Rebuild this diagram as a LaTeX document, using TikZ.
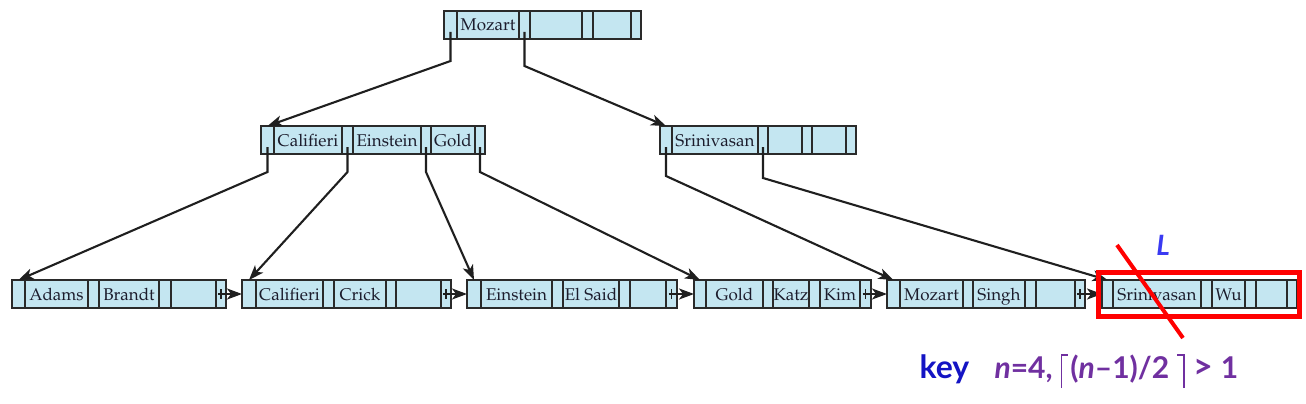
\documentclass[tikz,border=0pt]{standalone}
\usepackage{fontspec}
\newfontfamily\keyfont{Lato}
\usetikzlibrary{arrows.meta}
\definecolor{cellblue}{HTML}{C4E6F1}
\definecolor{cellline}{HTML}{2A2A2A}
\definecolor{keytext}{HTML}{1C1C2C}
\definecolor{keyblue}{HTML}{1414C4}
\definecolor{keypurple}{HTML}{7030A0}
\definecolor{lblue}{HTML}{3A3AF2}
\definecolor{boxred}{HTML}{FF0000}
\newcommand\pal{\fontencoding{OT1}\fontfamily{ppl}\fontsize{17}{17}\selectfont}
\newcommand\pcell[4]{\node[cellbox, minimum width={(#3)-(#2)}] (#1) at ({((#2)+(#3))/2},#4) {};}
\newcommand\kcell[5]{\node[cellbox, minimum width={(#3)-(#2)}, font=\pal, text=keytext, text height=15pt, text depth=3pt] (#1) at ({((#2)+(#3))/2},#4) {#5};}
\newcommand\myceilL{\raisebox{-10pt}{\rule{1.8pt}{34pt}}\raisebox{22.2pt}{\rule{6pt}{1.8pt}}}
\newcommand\myceilR{\raisebox{22.2pt}{\rule{6pt}{1.8pt}}\raisebox{-10pt}{\rule{1.8pt}{34pt}}}
\tikzset{
  cellbox/.style={draw=cellline, fill=cellblue, line width=1.5pt, inner sep=0pt, outer sep=0pt, minimum height=28pt},
  ptr/.style={draw=black!88, line width=2.1pt, -{Stealth[length=15pt,width=11pt,inset=4pt]}},
  tick/.style={draw=black!88, line width=1.5pt},
  redbox/.style={draw=boxred, line width=5pt},
}
\begin{document}
\begin{tikzpicture}[x=1pt,y=-1pt]
\useasboundingbox (0,0) rectangle (1306,404);
% root
\pcell{root-p1}{444}{457}{25}
\kcell{root-k1}{457}{519}{25}{Mozart}
\pcell{root-p2}{519}{530}{25}
\kcell{root-k2}{530}{582}{25}{}
\pcell{root-p3}{582}{593}{25}
\kcell{root-k3}{593}{631}{25}{}
\pcell{root-p4}{631}{641}{25}
% internal 1
\pcell{ia-p1}{261}{274}{140}
\kcell{ia-k1}{274}{342}{140}{Califieri}
\pcell{ia-p2}{342}{353}{140}
\kcell{ia-k2}{353}{421}{140}{Einstein}
\pcell{ia-p3}{421}{431}{140}
\kcell{ia-k3}{431}{475}{140}{Gold}
\pcell{ia-p4}{475}{485}{140}
% internal 2
\pcell{ib-p1}{660}{672}{140}
\kcell{ib-k1}{672}{758}{140}{Srinivasan}
\pcell{ib-p2}{758}{768}{140}
\kcell{ib-k2}{768}{802}{140}{}
\pcell{ib-p3}{802}{812}{140}
\kcell{ib-k3}{812}{846}{140}{}
\pcell{ib-p4}{846}{856}{140}
% leaf 1
\pcell{la-p1}{12}{25}{294}
\kcell{la-k1}{25}{88}{294}{Adams}
\pcell{la-p2}{88}{99}{294}
\kcell{la-k2}{99}{159}{294}{Brandt}
\pcell{la-p3}{159}{171}{294}
\kcell{la-k3}{171}{216}{294}{}
\pcell{la-p4}{216}{226}{294}
% leaf 2
\pcell{lb-p1}{242}{256}{294}
\kcell{lb-k1}{256}{323}{294}{Califieri}
\pcell{lb-p2}{323}{334}{294}
\kcell{lb-k2}{334}{386}{294}{Crick}
\pcell{lb-p3}{386}{396}{294}
\kcell{lb-k3}{396}{441}{294}{}
\pcell{lb-p4}{441}{451}{294}
% leaf 3
\pcell{lc-p1}{467}{481}{294}
\kcell{lc-k1}{481}{552}{294}{Einstein}
\pcell{lc-p2}{552}{563}{294}
\kcell{lc-k2}{563}{619}{294}{El Said}
\pcell{lc-p3}{619}{630}{294}
\kcell{lc-k3}{630}{666}{294}{}
\pcell{lc-p4}{666}{677}{294}
% leaf 4
\pcell{ld-p1}{694}{706}{294}
\kcell{ld-k1}{706}{763}{294}{Gold}
\pcell{ld-p2}{763}{773}{294}
\kcell{ld-k2}{773}{809}{294}{Katz}
\pcell{ld-p3}{809}{820}{294}
\kcell{ld-k3}{820}{860}{294}{Kim}
\pcell{ld-p4}{860}{871}{294}
% leaf 5
\pcell{le-p1}{887}{900}{294}
\kcell{le-k1}{900}{963}{294}{Mozart}
\pcell{le-p2}{963}{973}{294}
\kcell{le-k2}{973}{1025}{294}{Singh}
\pcell{le-p3}{1025}{1036}{294}
\kcell{le-k3}{1036}{1075}{294}{}
\pcell{le-p4}{1075}{1085}{294}
% leaf 6
\pcell{lf-p1}{1102}{1113}{294}
\kcell{lf-k1}{1113}{1201}{294}{Srinivasan}
\pcell{lf-p2}{1201}{1212}{294}
\kcell{lf-k2}{1212}{1245}{294}{Wu}
\pcell{lf-p3}{1245}{1256}{294}
\kcell{lf-k3}{1256}{1287}{294}{}
\pcell{lf-p4}{1287}{1297}{294}
% tree pointers
\draw[ptr] ([yshift=7pt]root-p1.south) -- ([yshift=-22pt]root-p1.south) -- (ia-p1.north);
\draw[ptr] ([yshift=7pt]root-p2.south) -- ([yshift=-27pt]root-p2.south) -- (ib-p1.north);
\draw[ptr] ([yshift=7pt]ia-p1.south) -- ([yshift=-18pt]ia-p1.south) -- (la-p1.north);
\draw[ptr] ([yshift=7pt]ia-p2.south) -- ([yshift=-18pt]ia-p2.south) -- (lb-p1.north);
\draw[ptr] ([yshift=7pt]ia-p3.south) -- ([yshift=-18pt]ia-p3.south) -- (lc-p1.north);
\draw[ptr] ([yshift=7pt]ia-p4.south) -- ([yshift=-18pt]ia-p4.south) -- (ld-p1.north);
\draw[ptr] ([yshift=7pt]ib-p1.south) -- ([yshift=-22pt]ib-p1.south) -- (le-p1.north);
\draw[ptr] ([yshift=7pt]ib-p2.south) -- ([yshift=-24pt]ib-p2.south) -- (lf-p1.north);
% leaf chain
\foreach \a/\b in {la/lb, lb/lc, lc/ld, ld/le, le/lf}{
  \draw[tick] ([yshift=5pt]\a-p4.center) -- ([yshift=-5pt]\a-p4.center);
  \draw[ptr] ([xshift=-3pt]\a-p4.center) -- (\b-p1.west);
}
% highlight
\draw[redbox] (1098.5,272) rectangle (1299,316);
\coordinate (cut-a) at (1117,245);
\coordinate (cut-b) at (1183,338);
\draw[draw=boxred, line width=4pt] (cut-a) -- (cut-b);
\node[font=\keyfont\bfseries\itshape\fontsize{28}{28}\selectfont, text=lblue] (Llabel) at (1163,245) {L};
\node[font=\keyfont\bfseries\fontsize{32}{32}\selectfont, text=keyblue, anchor=base west] (keyword) at (916,378) {key};
\node[font=\keyfont\bfseries\fontsize{30}{30}\selectfont, text=keypurple, anchor=base west] (keyexpr) at (991,378)
  {\textit{n}=4,\hspace{8pt}\myceilL\hspace{2pt}(\textit{n}–1)/2\hspace{8pt}\myceilR\hspace{8pt}{\fontsize{34}{34}\selectfont>}\hspace{8pt}1};
\end{tikzpicture}
\end{document}
